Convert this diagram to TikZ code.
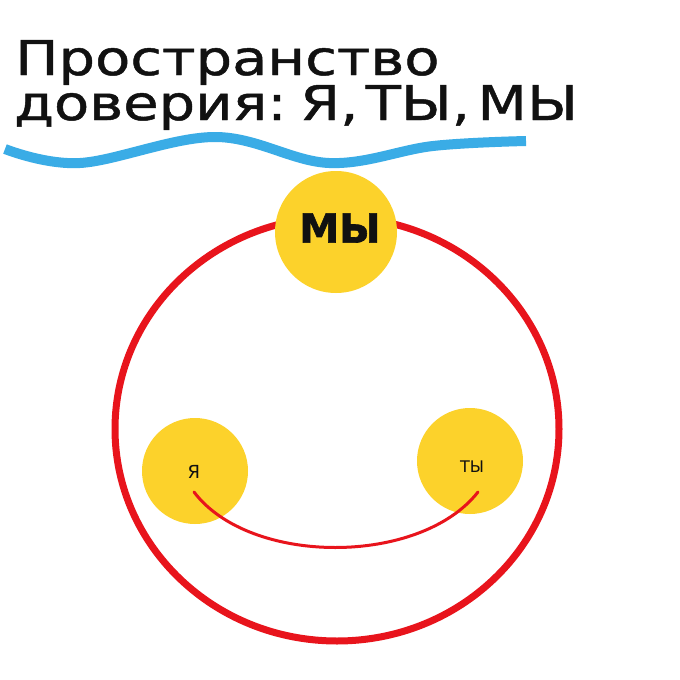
\documentclass[tikz,border=0pt]{standalone}
\usepackage{fontspec}
\setmainfont{DejaVu Sans}
\newfontfamily\titlefont[FakeStretch=1.2,FakeBold=1,WordSpace=0.4]{DejaVu Sans}
\newfontfamily\heavyfont[FakeBold=1.5]{DejaVu Sans Bold}
\definecolor{cred}{HTML}{E8141C}
\definecolor{cyel}{HTML}{FCD22B}
\definecolor{cblue}{HTML}{3AACE6}
\definecolor{cink}{HTML}{111111}
\tikzset{
  titletext/.style={anchor=base west, inner sep=0pt, text=cink, font=\titlefont\fontsize{48}{48}\selectfont},
  wave/.style={draw=cblue, line width=10pt},
  ring/.style={draw=cred, line width=7pt},
  disc/.style={circle, fill=cyel, inner sep=0pt},
  lbl/.style={inner sep=0pt, text=cink},
  link/.style={draw=cred, line width=3pt, line cap=round},
}
\begin{document}
\begin{tikzpicture}[x=1pt,y=-1pt]
\useasboundingbox[fill=white] (0,0) rectangle (680,680);
\node[titletext] (t1) at (15,75) {Пространство};
\node[titletext] (t2) at (14,120) {доверия: Я, ТЫ, МЫ};
\draw[wave] plot[smooth,tension=0.6] coordinates {(5,149) (80,163) (215,137) (329,163) (433,146) (526,141)};
\draw[ring] (337,429) ellipse [x radius=222pt, y radius=212pt];
\node[disc, minimum size=122pt] (we) at (336,232) {};
\node[disc, minimum size=106pt] (me) at (195,471) {};
\node[disc, minimum size=106pt] (you) at (470,461) {};
\coordinate (a) at (194,492);
\coordinate (b) at (478,492);
\draw[link] (a) .. controls (250,566) and (420,566) .. (b);
\node[lbl, font=\heavyfont\fontsize{40}{40}\selectfont] (weL) at (340,228) {МЫ};
\node[lbl, font=\fontsize{18}{18}\selectfont] (meL) at (194,472) {Я};
\node[lbl, font=\fontsize{16}{16}\selectfont] (youL) at (472,467) {ТЫ};
\end{tikzpicture}
\end{document}
